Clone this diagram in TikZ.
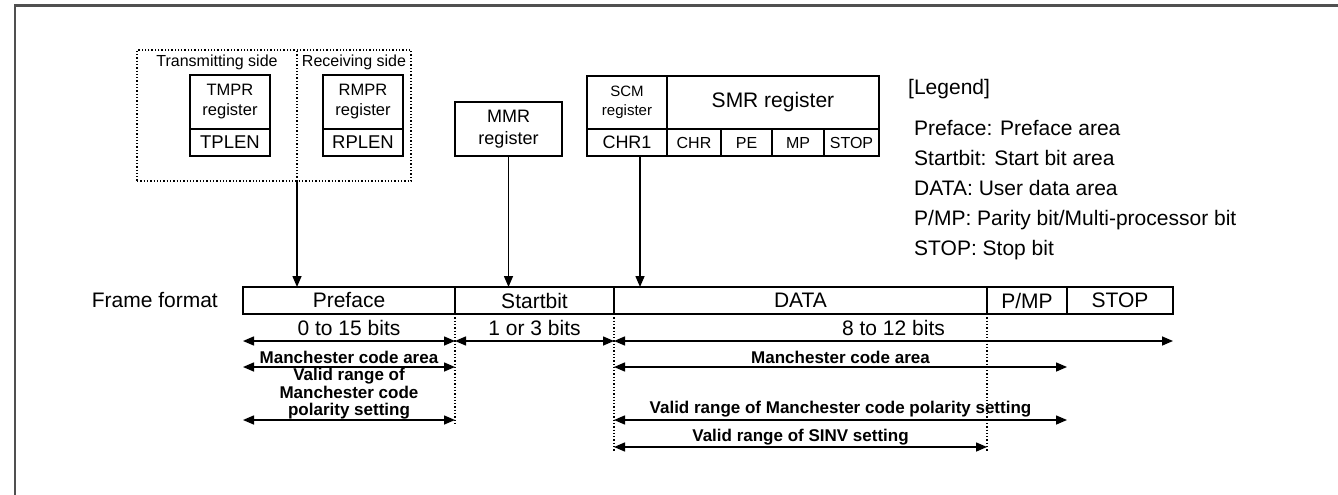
\documentclass[tikz,border=0pt]{standalone}
\usepackage{fontspec}
\setmainfont{Liberation Sans}
\usetikzlibrary{arrows.meta,positioning,calc}
\definecolor{framegray}{RGB}{80,80,80}
\tikzset{
  sidebox/.style={draw, dotted, line width=1.3pt, inner sep=0pt},
  regbox/.style={draw, line width=1.5pt, inner sep=0pt, outer sep=0pt, align=center},
  cell/.style={regbox, minimum height=27pt, font=\fontsize{21}{25}\selectfont},
  bitcell/.style={regbox, minimum height=27pt, font=\fontsize{16}{19}\selectfont},
  maintxt/.style={font=\fontsize{21}{25}\selectfont, inner sep=0pt},
  sidelbl/.style={font=\fontsize{16}{19}\selectfont, inner sep=0pt},
  dimlbl/.style={font=\bfseries\fontsize{17}{17.5}\selectfont, align=center, inner sep=0pt},
  myarrow/.style={-{Triangle[length=11pt,width=9pt]}, line width=1.5pt},
  dimarrow/.style={{Triangle[length=11pt,width=9pt]}-{Triangle[length=11pt,width=9pt]}, line width=1.5pt},
  dotline/.style={dotted, line width=1.3pt},
}
\begin{document}
\begin{tikzpicture}[x=1pt, y=-1pt]
\useasboundingbox (0,0) rectangle (1338,495);
\draw[framegray, line width=2.5pt] (15,495) -- (15,5.5) -- (1338,5.5);

% transmitting / receiving side
\node[sidebox, minimum width=274pt, minimum height=131pt] (sides) at (274,115.5) {};
\coordinate (sidesplit) at (297,181);
\draw[dotline] (sidesplit) -- (sidesplit |- sides.north);
\node[sidelbl] (txlbl) at (217,62) {Transmitting side};
\node[sidelbl] (rxlbl) at (354,62) {Receiving side};

\node[regbox, minimum width=80pt, minimum height=54pt, font=\fontsize{16.5}{20}\selectfont] (tmpr) at (230,102) {TMPR\\register};
\node[regbox, minimum width=80pt, minimum height=27pt, font=\fontsize{18.5}{21}\selectfont, below=0pt of tmpr] (tplen) {TPLEN};
\node[regbox, minimum width=80pt, minimum height=54pt, font=\fontsize{16.5}{20}\selectfont] (rmpr) at (363,102) {RMPR\\register};
\node[regbox, minimum width=80pt, minimum height=27pt, font=\fontsize{18.5}{21}\selectfont, below=0pt of rmpr] (rplen) {RPLEN};

% MMR, SCM, SMR
\node[regbox, minimum width=107pt, minimum height=54pt, font=\fontsize{18}{22}\selectfont] (mmr) at (508.5,129) {MMR\\register};
\node[regbox, minimum width=80pt, minimum height=53pt, font=\fontsize{15}{19}\selectfont] (scm) at (627,102.5) {SCM\\register};
\node[regbox, minimum width=212pt, minimum height=53pt, font=\fontsize{21}{25}\selectfont, right=0pt of scm] (smr) {SMR register};
\node[regbox, minimum width=80pt, minimum height=27pt, font=\fontsize{18}{21}\selectfont, below=0pt of scm] (chrone) {CHR1};
\node[bitcell, minimum width=54pt, right=0pt of chrone] (chr) {CHR};
\node[bitcell, minimum width=51pt, right=0pt of chr] (pe) {PE};
\node[bitcell, minimum width=52pt, right=0pt of pe] (mp) {MP};
\node[bitcell, minimum width=55pt, right=0pt of mp] (stopbit) {STOP};

% legend
\node[maintxt, anchor=west] (legend) at (908,89) {[Legend]};
\node[maintxt, anchor=west, align=left, font=\fontsize{21}{30}\selectfont] (legendtext) at (914,190)
  {Preface: Preface area\\Startbit: Start bit area\\DATA: User data area\\P/MP: Parity bit/Multi-processor bit\\STOP: Stop bit};

% frame format
\node[maintxt, anchor=east] (fflbl) at (218,300.5) {Frame format};
\node[cell, minimum width=212pt] (pref) at (349,300.5) {Preface};
\node[cell, minimum width=159pt, right=0pt of pref] (stbit) {Startbit};
\node[cell, minimum width=373pt, right=0pt of stbit] (data) {DATA};
\node[cell, minimum width=80pt, right=0pt of data] (pmp) {P/MP};
\node[cell, minimum width=106pt, right=0pt of pmp] (stop) {STOP};

% register arrows
\coordinate (chrtap) at ([xshift=13pt]chrone.south);
\draw[myarrow] (sidesplit) -- (sidesplit |- pref.north);
\draw[myarrow] (mmr.south) -- (mmr.south |- pref.north);
\draw[myarrow] (chrtap) -- (chrtap |- pref.north);

% dotted guides
\draw[dotline] (pref.south east) -- ([yshift=-110pt]pref.south east);
\draw[dotline] (stbit.south east) -- ([yshift=-138pt]stbit.south east);
\draw[dotline] (data.south east) -- ([yshift=-138pt]data.south east);

% bit lengths
\draw[dimarrow] ([yshift=-27pt]pref.south west) -- node[maintxt, midway, yshift=13pt] {0 to 15 bits} ([yshift=-27pt]pref.south east);
\draw[dimarrow] ([yshift=-27pt]stbit.south west) -- node[maintxt, midway, yshift=13pt] {1 or 3 bits} ([yshift=-27pt]stbit.south east);
\draw[dimarrow] ([yshift=-27pt]data.south west) -- node[maintxt, midway, yshift=13pt] {8 to 12 bits} ([yshift=-27pt]stop.south east);

% ranges
\draw[dimarrow] ([yshift=-53pt]pref.south west) -- node[dimlbl, midway, yshift=10pt] {Manchester code area} ([yshift=-53pt]pref.south east);
\draw[dimarrow] ([yshift=-53pt]data.south west) -- node[dimlbl, midway, yshift=10pt] {Manchester code area} ([yshift=-53pt]pmp.south east);
\draw[dimarrow] ([yshift=-106pt]pref.south west) -- node[dimlbl, midway, yshift=26pt] {Valid range of\\Manchester code\\polarity setting} ([yshift=-106pt]pref.south east);
\draw[dimarrow] ([yshift=-106pt]data.south west) -- node[dimlbl, midway, yshift=11pt] {Valid range of Manchester code polarity setting} ([yshift=-106pt]pmp.south east);
\draw[dimarrow] ([yshift=-133pt]data.south west) -- node[dimlbl, midway, yshift=10pt] {Valid range of SINV setting} ([yshift=-133pt]data.south east);

\end{tikzpicture}
\end{document}
